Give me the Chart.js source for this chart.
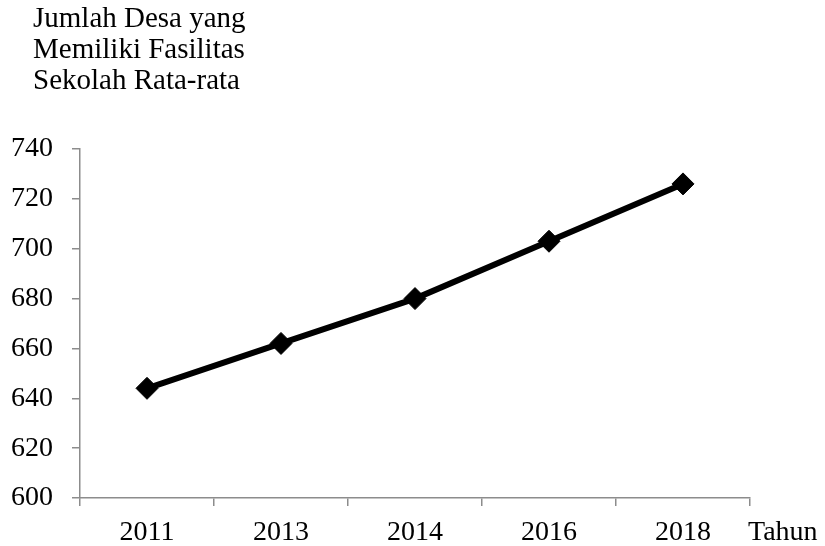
<!DOCTYPE html>
<html>
<head>
<meta charset="utf-8">
<script src="https://cdn.jsdelivr.net/npm/chart.js@4/dist/chart.umd.min.js"></script>
<style>
html,body{margin:0;padding:0;background:#fff;}
#wrap{width:825px;height:546px;position:relative;}
</style>
</head>
<body>
<div id="wrap"><canvas id="c" width="825" height="546"></canvas></div>
<script>
const categories = ['2011', '2013', '2014', '2016', '2018'];
const values = [644, 662, 680, 703, 726];
const titleLines = ['Jumlah Desa yang', 'Memiliki Fasilitas', 'Sekolah Rata-rata'];
const xAxisLabel = 'Tahun';
const yMin = 600, yMax = 740, yStep = 20;

const FONT = '"Liberation Serif", "Times New Roman", serif';
const AXIS = '#8c8c8c';

const textPlugin = {
  id: 'texts',
  afterDraw(chart) {
    const ctx = chart.ctx;
    const ca = chart.chartArea;
    ctx.save();
    ctx.fillStyle = '#000';
    ctx.font = '29px ' + FONT;
    ctx.textAlign = 'left';
    ctx.textBaseline = 'alphabetic';
    titleLines.forEach((t, i) => {
      ctx.fillText(t, ca.left - 47, 27 + i * 31);
    });
    ctx.font = '28px ' + FONT;
    ctx.fillText(xAxisLabel, ca.right - 2, 540);
    ctx.restore();
  }
};

new Chart(document.getElementById('c'), {
  type: 'line',
  data: {
    labels: categories,
    datasets: [{
      data: values,
      borderColor: '#000',
      backgroundColor: '#000',
      borderWidth: 6,
      pointStyle: 'rectRot',
      pointRadius: 11,
      pointBorderWidth: 1,
      pointBackgroundColor: '#000',
      pointBorderColor: '#000',
      tension: 0,
      fill: false
    }]
  },
  options: {
    responsive: false,
    animation: false,
    devicePixelRatio: 1,
    layout: { padding: { top: 149, left: 0, right: 75, bottom: 0 } },
    plugins: {
      legend: { display: false },
      title: { display: false },
      tooltip: { enabled: false }
    },
    scales: {
      x: {
        type: 'category',
        offset: true,
        grid: { offset: true, drawOnChartArea: false, drawTicks: true, tickLength: 8, color: AXIS, lineWidth: 1.5 },
        border: { display: true, color: AXIS, width: 1.5 },
        ticks: { color: '#000', font: { family: FONT, size: 28 }, padding: 10, maxRotation: 0, autoSkip: false },
        afterFit(s) { s.height = 48; }
      },
      y: {
        type: 'linear',
        min: yMin,
        max: yMax,
        grid: { drawOnChartArea: false, drawTicks: true, tickLength: 8, color: AXIS, lineWidth: 1.5 },
        border: { display: true, color: AXIS, width: 1.5 },
        ticks: { stepSize: yStep, color: '#000', font: { family: FONT, size: 28 }, padding: 19 },
        afterFit(s) { s.width = 80; }
      }
    }
  },
  plugins: [textPlugin]
});
</script>
</body>
</html>
